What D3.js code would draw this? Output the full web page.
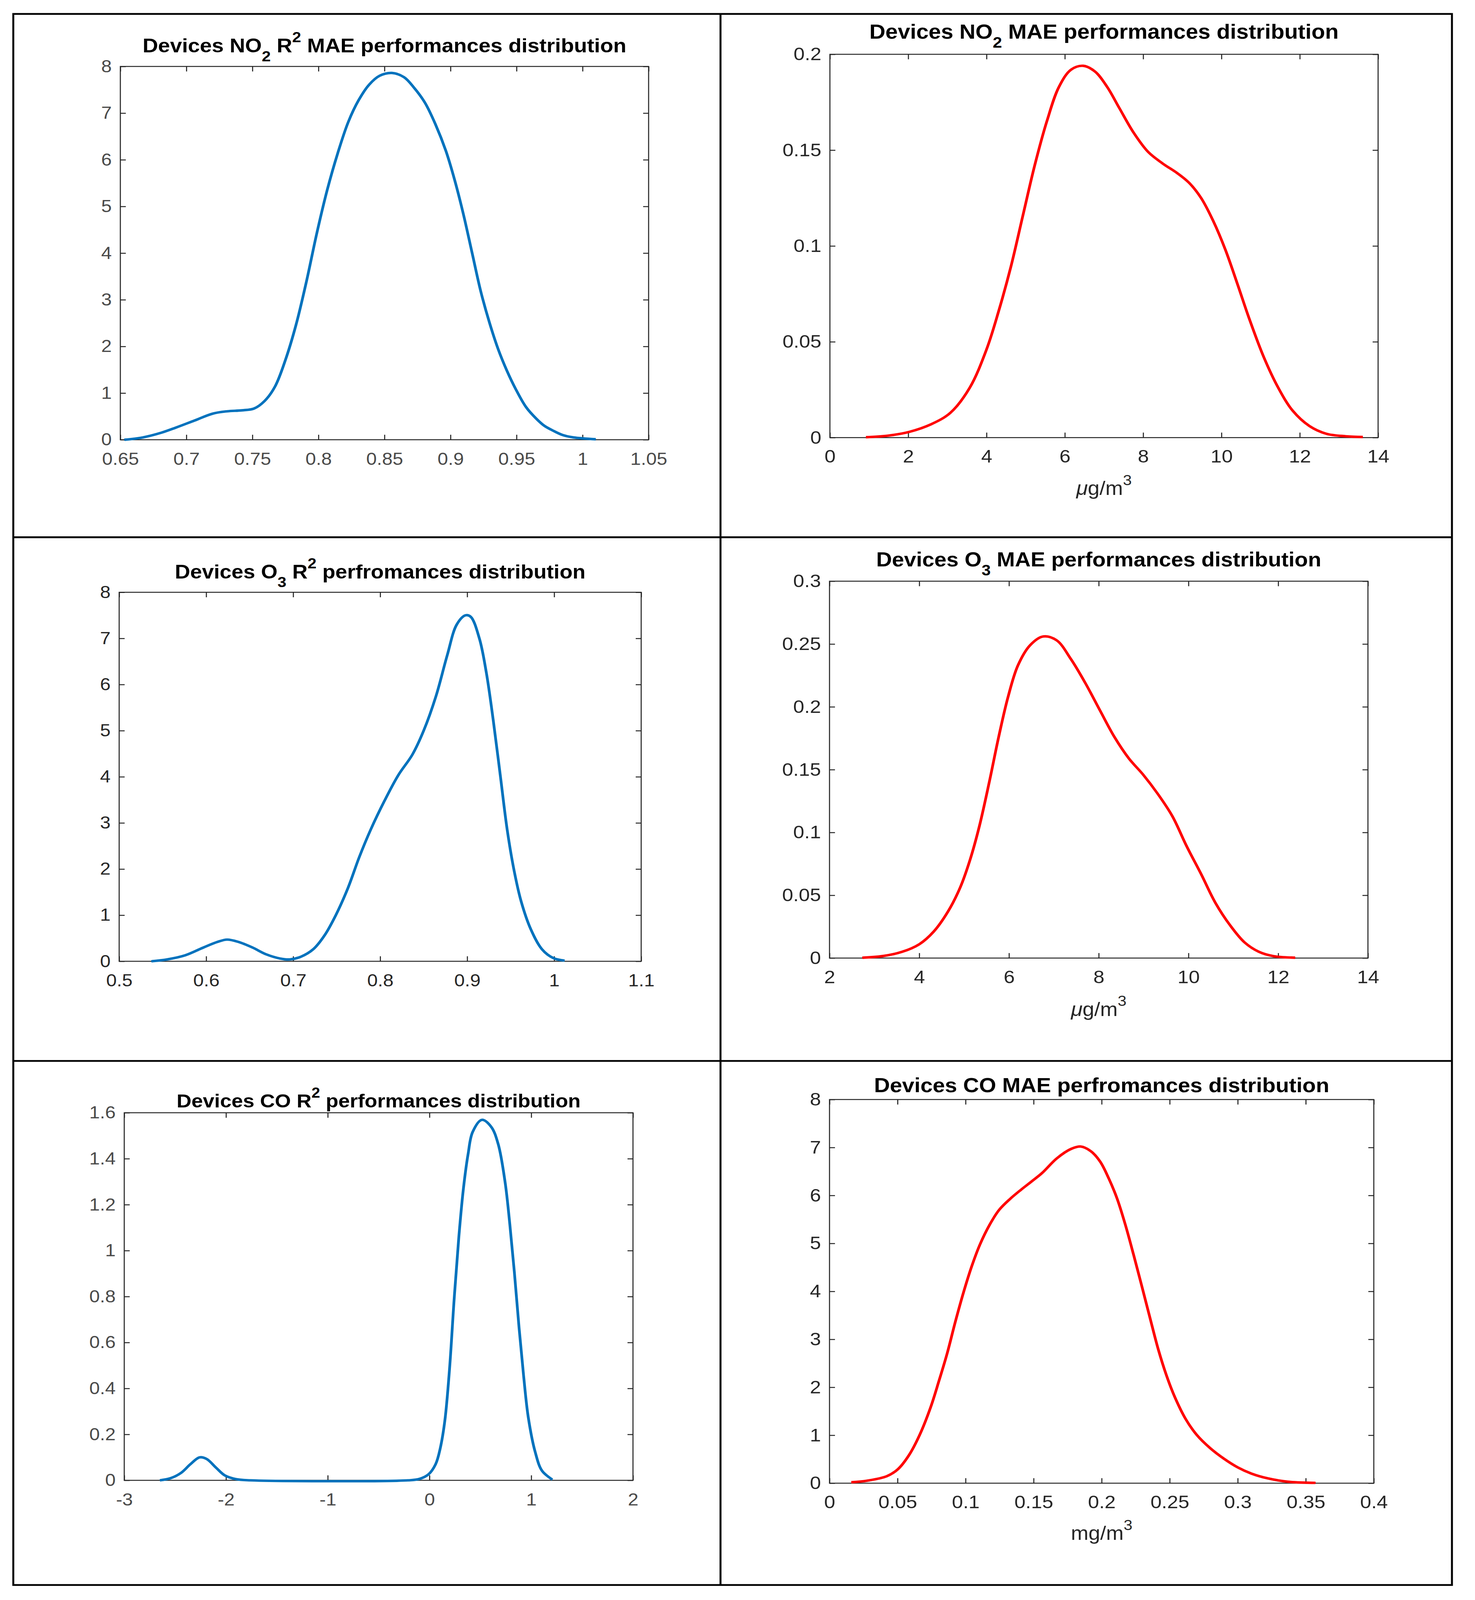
<!DOCTYPE html>
<html>
<head>
<meta charset="utf-8">
<script src="https://d3js.org/d3.v7.min.js"></script>
<style>
  html, body { margin: 0; padding: 0; background: #fff; overflow: hidden; }
  svg { display: block; }
</style>
</head>
<body>
<div id="chart"></div>
<script>

// ---- values ----

// NO2 R^2 density
var no2R2X = [0.653,0.667,0.681,0.692,0.706,0.720,0.731,0.742,0.7513,0.7592,0.7671,0.7750,0.7830,0.7909,0.7988,0.8067,0.8146,0.8226,0.8305,0.8384,0.8463,0.8556,0.8648,0.8728,0.8807,0.8886,0.8965,0.9031,0.9097,0.9163,0.9229,0.9295,0.9361,0.9427,0.9493,0.9572,0.965,0.971,0.978,0.985,0.993,1.010];
var no2R2Y = [0.00,0.05,0.15,0.26,0.41,0.56,0.61,0.63,0.67,0.83,1.14,1.71,2.46,3.39,4.43,5.36,6.14,6.81,7.28,7.61,7.80,7.86,7.77,7.53,7.22,6.76,6.19,5.57,4.84,4.01,3.18,2.51,1.94,1.48,1.09,0.70,0.45,0.30,0.19,0.10,0.05,0.01];

// NO2 MAE density
var no2MaeX = [0.92,1.48,2.03,2.59,3.08,3.57,4.00,4.31,4.62,4.93,5.23,5.54,5.85,6.16,6.47,6.77,7.08,7.39,7.76,8.13,8.50,8.87,9.17,9.48,9.79,10.10,10.41,10.71,11.08,11.45,11.82,12.25,12.68,13.18,13.61];
var no2MaeY = [0.0002,0.001,0.003,0.007,0.013,0.026,0.046,0.066,0.089,0.116,0.142,0.165,0.183,0.192,0.194,0.191,0.183,0.172,0.159,0.149,0.143,0.138,0.133,0.125,0.113,0.098,0.080,0.062,0.042,0.026,0.014,0.006,0.002,0.0007,0.0003];

// O3 R^2 density
var o3R2X = [0.537,0.555,0.576,0.597,0.613,0.624,0.637,0.653,0.669,0.685,0.696,0.709,0.723,0.736,0.749,0.763,0.776,0.789,0.805,0.821,0.837,0.850,0.864,0.877,0.888,0.898,0.904,0.914,0.922,0.930,0.938,0.946,0.954,0.962,0.973,0.986,0.999,1.012];
var o3R2Y = [0,0.04,0.13,0.30,0.42,0.47,0.42,0.30,0.15,0.06,0.04,0.10,0.26,0.56,1.00,1.59,2.26,2.85,3.48,4.04,4.48,5.00,5.74,6.63,7.30,7.50,7.47,7.00,6.26,5.22,4.04,2.85,1.96,1.30,0.70,0.26,0.07,0.015];

// O3 MAE density
var o3MaeX = [2.73,3.19,3.62,4.00,4.32,4.64,4.91,5.13,5.34,5.56,5.77,5.98,6.20,6.47,6.76,7.06,7.38,7.70,8.03,8.35,8.67,8.99,9.31,9.64,9.96,10.28,10.60,10.93,11.25,11.57,11.89,12.38];
var o3MaeY = [0.0003,0.0016,0.005,0.011,0.021,0.037,0.056,0.078,0.105,0.140,0.176,0.208,0.233,0.249,0.256,0.253,0.238,0.219,0.197,0.176,0.159,0.146,0.131,0.113,0.089,0.067,0.044,0.026,0.0125,0.005,0.0016,0.0003];

// CO R^2 density
var coR2X = [-2.65,-2.54,-2.44,-2.35,-2.26,-2.19,-2.10,-2.01,-1.90,-1.76,-0.21,-0.10,-0.01,0.06,0.106,0.151,0.197,0.242,0.288,0.333,0.379,0.424,0.515,0.606,0.675,0.743,0.789,0.834,0.880,0.925,0.971,1.039,1.107,1.208];
var coR2Y = [0,0.01,0.033,0.07,0.10,0.093,0.056,0.021,0.005,0,0,0.006,0.026,0.07,0.14,0.26,0.485,0.786,1.057,1.268,1.419,1.516,1.569,1.539,1.464,1.298,1.117,0.907,0.666,0.455,0.274,0.123,0.041,0.003];

// CO MAE density
var coMaeX = [0.0160,0.0280,0.0421,0.0502,0.0583,0.0663,0.0744,0.0804,0.0865,0.0925,0.0986,0.1046,0.1106,0.1177,0.1247,0.1328,0.1408,0.1489,0.1563,0.1669,0.1775,0.1846,0.1917,0.1988,0.2053,0.2114,0.2174,0.2234,0.2295,0.2355,0.2416,0.2476,0.2537,0.2617,0.2698,0.2798,0.2899,0.3000,0.3101,0.3222,0.3370,0.3572];
var coMaeY = [0.02,0.054,0.145,0.29,0.58,1.01,1.59,2.13,2.71,3.37,3.99,4.53,4.98,5.39,5.70,5.93,6.12,6.30,6.47,6.77,6.97,7.02,6.93,6.71,6.35,5.93,5.39,4.77,4.11,3.45,2.79,2.25,1.80,1.34,1.01,0.73,0.51,0.33,0.20,0.10,0.03,0.007];

// tick labels
var no2R2XTicks  = ["0.65","0.7","0.75","0.8","0.85","0.9","0.95","1","1.05"];
var no2R2YTicks  = ["0","1","2","3","4","5","6","7","8"];
var no2MaeXTicks = ["0","2","4","6","8","10","12","14"];
var no2MaeYTicks = ["0","0.05","0.1","0.15","0.2"];
var o3R2XTicks   = ["0.5","0.6","0.7","0.8","0.9","1","1.1"];
var o3R2YTicks   = ["0","1","2","3","4","5","6","7","8"];
var o3MaeXTicks  = ["2","4","6","8","10","12","14"];
var o3MaeYTicks  = ["0","0.05","0.1","0.15","0.2","0.25","0.3"];
var coR2XTicks   = ["-3","-2","-1","0","1","2"];
var coR2YTicks   = ["0","0.2","0.4","0.6","0.8","1","1.2","1.4","1.6"];
var coMaeXTicks  = ["0","0.05","0.1","0.15","0.2","0.25","0.3","0.35","0.4"];
var coMaeYTicks  = ["0","1","2","3","4","5","6","7","8"];

// titles (text, kind) - kind: n normal, sub, sup, it italic
var no2R2Title  = [["Devices NO","n"],["2","sub"],[" R","n"],["2","sup"],[" MAE performances distribution","n"]];
var no2MaeTitle = [["Devices NO","n"],["2","sub"],[" MAE performances distribution","n"]];
var o3R2Title   = [["Devices O","n"],["3","sub"],[" R","n"],["2","sup"],[" perfromances distribution","n"]];
var o3MaeTitle  = [["Devices O","n"],["3","sub"],[" MAE performances distribution","n"]];
var coR2Title   = [["Devices CO R","n"],["2","sup"],[" performances distribution","n"]];
var coMaeTitle  = [["Devices CO MAE perfromances distribution","n"]];

var ugLabel = [["\u03bc","it"],["g/m","n"],["3","sup"]];
var mgLabel = [["mg/m","n"],["3","sup"]];

var BLUE = "#0072bd", RED = "#ff0000";

// ---- layout (drawn in a 3775 x 4479 space, stretched to the window) ----
var W = 3775, H = 4479;

var panels = [
  { xs: no2R2X, ys: no2R2Y, xt: no2R2XTicks, yt: no2R2YTicks, title: no2R2Title, color: BLUE,
    left: 308, right: 1660, top: 186, bottom: 1231, titleY: 147, titleW: 1238, fs: 48.5, lab: "#4a4a4a" },
  { xs: no2MaeX, ys: no2MaeY, xt: no2MaeXTicks, yt: no2MaeYTicks, title: no2MaeTitle, color: RED,
    left: 2124, right: 3527, top: 152, bottom: 1225, titleY: 108, titleW: 1201, fs: 51, lab: "#262626",
    xlabel: ugLabel, xlabelY: 1386 },
  { xs: o3R2X, ys: o3R2Y, xt: o3R2XTicks, yt: o3R2YTicks, title: o3R2Title, color: BLUE,
    left: 305, right: 1641, top: 1658, bottom: 2691, titleY: 1619, titleW: 1051, fs: 48.5, lab: "#262626" },
  { xs: o3MaeX, ys: o3MaeY, xt: o3MaeXTicks, yt: o3MaeYTicks, title: o3MaeTitle, color: RED,
    left: 2123, right: 3501, top: 1627, bottom: 2682, titleY: 1586, titleW: 1139, fs: 51, lab: "#262626",
    xlabel: ugLabel, xlabelY: 2844 },
  { xs: coR2X, ys: coR2Y, xt: coR2XTicks, yt: coR2YTicks, title: coR2Title, color: BLUE,
    left: 318, right: 1620, top: 3115, bottom: 4144, titleY: 3100, titleW: 1034, fs: 48.5, lab: "#4a4a4a" },
  { xs: coMaeX, ys: coMaeY, xt: coMaeXTicks, yt: coMaeYTicks, title: coMaeTitle, color: RED,
    left: 2123, right: 3516, top: 3078, bottom: 4152, titleY: 3057, titleW: 1165, fs: 51, lab: "#262626",
    xlabel: mgLabel, xlabelY: 4311 }
];

var vw = window.innerWidth || W, vh = window.innerHeight || H;

var svg = d3.select("#chart")
  .append("svg")
    .attr("width", vw)
    .attr("height", vh)
    .attr("viewBox", "0 0 " + W + " " + H)
    .attr("preserveAspectRatio", "none")
    .style("font-family", "'Liberation Sans', Arial, Helvetica, sans-serif");

svg.append("rect").attr("width", W).attr("height", H).attr("fill", "#fff");

// table frame around the six figures
var frame = svg.append("g").attr("stroke", "#000").attr("stroke-width", 5).attr("fill", "none");
frame.append("rect").attr("x", 34).attr("y", 39).attr("width", 3716 - 34).attr("height", 4437 - 39);
frame.append("line").attr("x1", 1844).attr("x2", 1844).attr("y1", 39).attr("y2", 4437);
frame.append("line").attr("x1", 34).attr("x2", 3716).attr("y1", 1504).attr("y2", 1504);
frame.append("line").attr("x1", 34).attr("x2", 3716).attr("y1", 2970).attr("y2", 2970);

// rich text with sub/superscripts
function addRich(t, parts, fs) {
  t.selectAll("tspan").remove();
  var shift = 0;
  parts.forEach(function(pt) {
    var s = t.append("tspan").text(pt[0]);
    var target = 0, size = fs;
    if (pt[1] === "sub") { target = 0.45 * fs; size = 0.75 * fs; }
    if (pt[1] === "sup") { target = -0.52 * fs; size = 0.75 * fs; }
    if (pt[1] === "it") s.attr("font-style", "italic");
    s.attr("font-size", size).attr("dy", target - shift);
    shift = target;
  });
}

var TICK = 14;

function drawPanel(p) {
  var g = svg.append("g");
  var xv = p.xt.map(Number), yv = p.yt.map(Number);

  var x = d3.scaleLinear()
    .domain([xv[0], xv[xv.length - 1]])
    .range([p.left, p.right]);
  var y = d3.scaleLinear()
    .domain([yv[0], yv[yv.length - 1]])
    .range([p.bottom, p.top]);

  // axes with inward ticks on all four sides
  var bottom = g.append("g")
    .attr("transform", "translate(0," + p.bottom + ")")
    .call(d3.axisBottom(x).tickValues(xv)
      .tickFormat(function(d, i) { return p.xt[i]; })
      .tickSizeInner(-TICK).tickSizeOuter(0)
      .tickPadding(70 - 0.71 * p.fs));
  var left = g.append("g")
    .attr("transform", "translate(" + p.left + ",0)")
    .call(d3.axisLeft(y).tickValues(yv)
      .tickFormat(function(d, i) { return p.yt[i]; })
      .tickSizeInner(-TICK).tickSizeOuter(0)
      .tickPadding(22));
  var top = g.append("g")
    .attr("transform", "translate(0," + p.top + ")")
    .call(d3.axisTop(x).tickValues(xv).tickFormat("").tickSizeInner(-TICK).tickSizeOuter(0));
  var right = g.append("g")
    .attr("transform", "translate(" + p.right + ",0)")
    .call(d3.axisRight(y).tickValues(yv).tickFormat("").tickSizeInner(-TICK).tickSizeOuter(0));

  [bottom, left, top, right].forEach(function(a) {
    a.select(".domain").remove();
    a.selectAll(".tick line").attr("stroke", "#262626").attr("stroke-width", 2.7);
    a.selectAll(".tick text")
      .attr("font-size", p.fs)
      .attr("font-family", "'Liberation Sans', Arial, Helvetica, sans-serif")
      .attr("fill", p.lab);
  });

  g.append("rect")
    .attr("x", p.left).attr("y", p.top)
    .attr("width", p.right - p.left).attr("height", p.bottom - p.top)
    .attr("fill", "none").attr("stroke", "#262626").attr("stroke-width", 2.7);

  // density curve
  var line = d3.line()
    .x(function(d) { return x(d[0]); })
    .y(function(d) { return y(d[1]); })
    .curve(d3.curveCatmullRom.alpha(0.5));
  g.append("path")
    .datum(d3.zip(p.xs, p.ys))
    .attr("d", line)
    .attr("fill", "none")
    .attr("stroke", p.color)
    .attr("stroke-width", 7)
    .attr("stroke-linejoin", "round");

  // title, sized so its width matches the figure
  var cx = (p.left + p.right) / 2;
  var title = g.append("text")
    .attr("x", cx).attr("y", p.titleY)
    .attr("text-anchor", "middle")
    .attr("font-weight", "bold")
    .attr("fill", "#000");
  addRich(title, p.title, 55);
  var w = title.node().getBBox().width;
  addRich(title, p.title, 55 * p.titleW / w);

  if (p.xlabel) {
    var xl = g.append("text")
      .attr("x", cx).attr("y", p.xlabelY)
      .attr("text-anchor", "middle")
      .attr("fill", "#262626");
    addRich(xl, p.xlabel, 54);
  }
}

panels.forEach(drawPanel);

</script>
</body>
</html>
